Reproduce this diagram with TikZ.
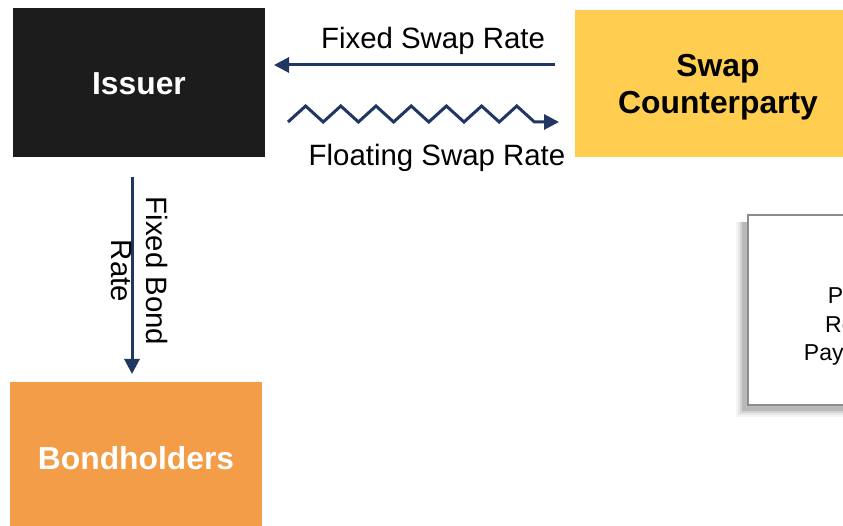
\documentclass[tikz,border=0pt]{standalone}
\usepackage{fontspec}
\setmainfont{Liberation Sans}
\usetikzlibrary{arrows.meta}
\definecolor{navy}{HTML}{1F3761}
\definecolor{issuerblack}{HTML}{1C1C1C}
\definecolor{swapyellow}{HTML}{FFCD50}
\definecolor{bondorange}{HTML}{F49D48}
\definecolor{boxgray}{HTML}{8C8C8C}
\begin{document}
\begin{tikzpicture}[x=1pt,y=-1pt,
  lbl/.style={font=\fontsize{29.4}{35}\selectfont, text=black, inner sep=0pt, align=center},
  boxlbl/.style={font=\bfseries\fontsize{31.8}{37}\selectfont, inner sep=0pt, align=center},
  smalllbl/.style={font=\fontsize{23}{28.5}\selectfont, text=black, inner sep=0pt},
  colbox/.style={minimum width=#1, inner sep=0pt, anchor=north west},
  flow/.style={draw=navy, line width=3pt, -{Triangle[length=15pt,width=15pt]}}]
\useasboundingbox (0,0) rectangle (843,526);
\fill[white] (0,0) rectangle (843,526);
% boxes
\node[colbox=252pt, minimum height=149pt, fill=issuerblack] (issuer) at (13,8) {};
\node[boxlbl, text=white] (issuerlbl) at (139,84) {Issuer};
\node[colbox=268pt, minimum height=147pt, fill=swapyellow] (swap) at (575,10) {};
\node[boxlbl, text=black] (swaplbl) at (718,87) {Swap\\Counterparty};
\node[colbox=252pt, minimum height=145pt, fill=bondorange] (bond) at (10,382) {};
\node[boxlbl, text=white] (bondlbl2) at (136,458) {Bondholders};
% shadowed white box
\foreach \k/\o in {7/0.04,5/0.06,3/0.08,1/0.12}{
  \fill[black, opacity=\o] (743-\k,222) rectangle (850,410+\k);
}
\fill[white] (748,215) rectangle (843,405);
\draw[boxgray, line width=2pt] (843,215) -- (748,215) -- (748,405) -- (843,405);
\node[smalllbl, anchor=base west] (t1) at (827.7,304) {P};
\node[smalllbl, anchor=base west] (t2) at (825,333) {Re};
\node[smalllbl, anchor=base west] (t3) at (803.7,361) {Pay};
% fixed swap rate arrow
\coordinate (fs) at (555,65);
\coordinate (fe) at (274,65);
\draw[flow] (fs) -- (fe);
\node[lbl] (fixedlbl) at (433,41) {Fixed Swap Rate};
% floating zigzag arrow
\coordinate (zs) at (288,122);
\coordinate (ze) at (559,122);
\draw[flow, line join=miter] (zs) \foreach \i in {1,...,7}{ -- ++(17.6,-16) -- ++(17.6,16)} -- (ze);
\node[lbl] (floatlbl) at (437,158) {Floating Swap Rate};
% fixed bond rate arrow
\coordinate (bs) at (132,177);
\coordinate (be) at (132,374);
\draw[flow] (bs) -- (be);
\node[lbl, rotate=-90] (bondlbl) at (140,271) {Fixed Bond\\Rate};
\end{tikzpicture}
\end{document}
